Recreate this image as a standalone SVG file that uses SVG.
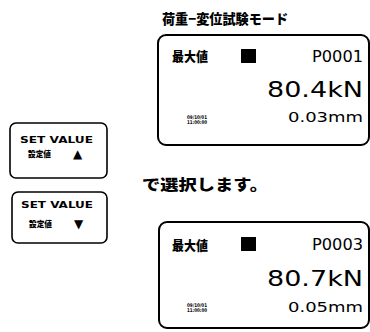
<svg xmlns="http://www.w3.org/2000/svg" width="370" height="332" viewBox="0 0 370 332">
<style>
.box{fill:#fff;stroke:#000;stroke-width:2}
.btn{fill:#fff;stroke:#000;stroke-width:1.6}
.jp{font-family:"Noto Sans CJK JP",sans-serif;font-weight:900;fill:#000}
.lcd{font-family:"DejaVu Sans","Liberation Sans",sans-serif;fill:#000;text-anchor:end}
.btxt{font-family:"DejaVu Sans","Liberation Sans",sans-serif;font-weight:bold;fill:#000}
.tri{font-family:"DejaVu Sans",sans-serif;fill:#000}
.dt{font-family:"DejaVu Sans",sans-serif;font-weight:bold;font-size:5px;fill:#000}
</style>
<rect width="370" height="332" fill="#fff"/>
<text id="title" class="jp" x="162" y="24" font-size="13.5" textLength="126" lengthAdjust="spacingAndGlyphs">荷重−変位試験モード</text>
<g id="display1">
<rect class="box" x="158" y="35" width="211" height="110" rx="8"/>
<text class="jp" x="172" y="61" font-size="13" textLength="36" lengthAdjust="spacingAndGlyphs">最大値</text>
<rect x="241" y="49" width="15" height="14" fill="#000"/>
<text class="lcd" x="363" y="62" font-size="16" textLength="51" lengthAdjust="spacingAndGlyphs">P0001</text>
<text class="lcd" x="363" y="97" font-size="22" textLength="96" lengthAdjust="spacingAndGlyphs">80.4kN</text>
<text class="lcd" x="363" y="122" font-size="14" textLength="75" lengthAdjust="spacingAndGlyphs">0.03mm</text>
<text class="dt" x="187" y="118.5" textLength="20" lengthAdjust="spacingAndGlyphs">09/10/01</text>
<text class="dt" x="187" y="124" textLength="20" lengthAdjust="spacingAndGlyphs">11:00:00</text>
</g>
<g id="btn-up">
<rect class="btn" x="10" y="123" width="97" height="55" rx="6"/>
<text class="btxt" x="20" y="143" font-size="8.5" textLength="73" lengthAdjust="spacingAndGlyphs">SET VALUE</text>
<text class="jp" x="28" y="157" font-size="8.5" textLength="23" lengthAdjust="spacingAndGlyphs">設定値</text>
<text class="tri" x="73" y="158" font-size="12">▲</text>
</g>
<g id="btn-down">
<rect class="btn" x="12" y="192" width="95" height="51" rx="6"/>
<text class="btxt" x="21" y="208" font-size="8.5" textLength="72" lengthAdjust="spacingAndGlyphs">SET VALUE</text>
<text class="jp" x="29" y="227" font-size="8.5" textLength="23" lengthAdjust="spacingAndGlyphs">設定値</text>
<text class="tri" x="74" y="228" font-size="12">▼</text>
</g>
<text id="caption" class="jp" x="142" y="190" font-size="15" textLength="126" lengthAdjust="spacingAndGlyphs">で選択します。</text>
<g id="display2">
<rect class="box" x="159" y="222" width="210" height="106" rx="8"/>
<text class="jp" x="172" y="250" font-size="13" textLength="36" lengthAdjust="spacingAndGlyphs">最大値</text>
<rect x="241" y="237" width="15" height="14" fill="#000"/>
<text class="lcd" x="363" y="250" font-size="16" textLength="51" lengthAdjust="spacingAndGlyphs">P0003</text>
<text class="lcd" x="363" y="286" font-size="22" textLength="96" lengthAdjust="spacingAndGlyphs">80.7kN</text>
<text class="lcd" x="363" y="312" font-size="14" textLength="75" lengthAdjust="spacingAndGlyphs">0.05mm</text>
<text class="dt" x="187" y="306.5" textLength="20" lengthAdjust="spacingAndGlyphs">09/10/01</text>
<text class="dt" x="187" y="312" textLength="20" lengthAdjust="spacingAndGlyphs">11:00:00</text>
</g>
</svg>
